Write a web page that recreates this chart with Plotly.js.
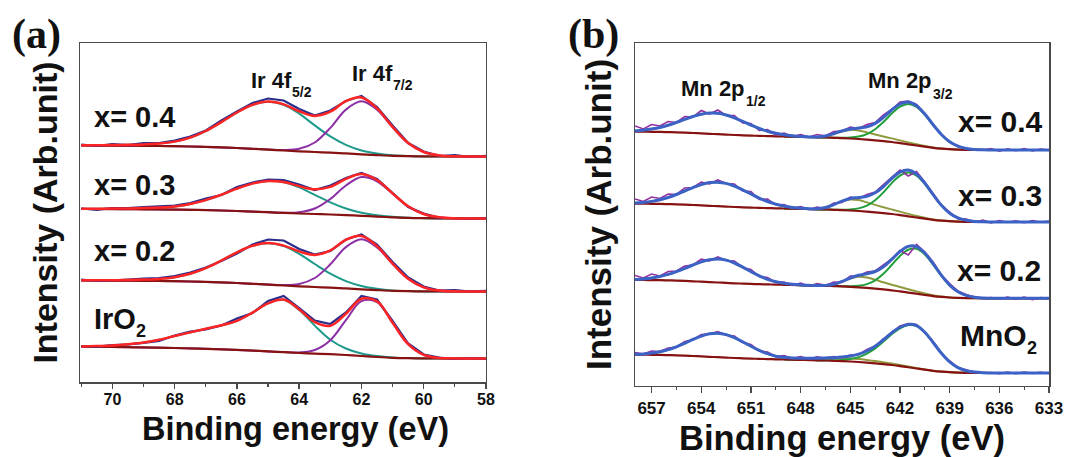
<!DOCTYPE html>
<html><head><meta charset="utf-8">
<script src="https://cdn.plot.ly/plotly-3.0.1.min.js"></script>
<style>html,body{margin:0;padding:0;background:#fff;} #chart{width:1070px;height:457px;}</style>
</head><body><div id="chart"></div>
<script>
// ---------------- Panel (a): Ir 4f ----------------
const energyA = [71,70.5,70,69.5,69,68.5,68,67.5,67,66.5,66,65.5,65,64.5,64,63.5,63,62.5,62,61.5,61,60.5,60,59.5,59,58.5,58];
const tickValsA = [70,68,66,64,62,60,58];

// x = 0.4
const bgA04   = [236.5,236.5,236.4,236.3,236.2,236.0,235.8,235.5,235.1,234.6,234.0,233.2,232.4,231.5,230.7,230.0,229.4,228.6,227.7,226.9,226.2,225.8,225.6,225.5,225.5,225.5,225.5];
const ir52A04 = [0.2,0.3,0.5,0.9,1.4,2.4,4.6,8.9,15.9,25.3,35.5,43.9,47.9,45.7,37.6,26.6,16.2,8.5,3.8,1.5,0.5,0.15,0,0,0,0,0];
const ir72A04 = [0,0,0,0,0,0,0,0,0,0,0,0,0.1,0.45,2.5,9.5,24.7,43.8,53,45.3,28.4,13,4.4,1.1,0.2,0,0];
const rawA04  = [237.5,236.0,237.8,237.0,238.8,239.0,241.5,245.5,251.5,261.5,270.5,279.0,283.5,281.5,273.0,266.5,271.5,281.0,286.0,275.0,256.5,239.0,230.5,226.0,226.8,225.0,226.2];
// x = 0.3
const bgA03   = [173.0,173.0,172.9,172.8,172.7,172.6,172.4,172.2,171.9,171.5,171.0,170.4,169.8,169.1,168.5,168.0,167.5,166.9,166.2,165.4,164.7,164.1,163.8,163.6,163.5,163.5,163.5];
const ir52A03 = [0.2,0.3,0.5,0.8,1.2,1.9,3.2,5.9,10.0,15.8,22.4,28.0,31.2,30.7,26.1,19.2,12.1,6.6,3.1,1.3,0.45,0.15,0.05,0,0,0,0];
const ir72A03 = [0,0,0,0,0,0,0,0,0,0,0,0,0,0.2,1.3,5.5,15.5,29.6,38.7,35.3,23.5,11.5,4.1,1.1,0.2,0,0];
const rawA03  = [173.5,172.2,174.0,173.8,174.8,175.5,176.5,179.0,183.5,187.0,195.0,199.5,202.5,202.0,197.5,192.0,196.5,204.0,209.0,203.0,189.5,175.0,168.5,164.2,164.0,163.0,164.0];
// x = 0.2
const bgA02   = [101.5,101.5,101.4,101.3,101.2,101.0,100.8,100.5,100.1,99.6,99.0,98.2,97.4,96.5,95.7,95.0,94.4,93.6,92.7,91.9,91.2,90.8,90.6,90.5,90.5,90.5,90.5];
const ir52A02 = [0.2,0.3,0.4,0.8,1.2,2.1,4.0,7.7,13.7,21.9,30.7,38.0,41.4,39.5,32.5,23.0,14.0,7.3,3.3,1.3,0.4,0.1,0,0,0,0,0];
const ir72A02 = [0,0,0,0,0,0,0,0,0,0,0,0,0.1,0.4,2.4,9.0,23.3,41.3,50.0,42.7,26.8,12.3,4.1,1.0,0.2,0,0];
const rawA02  = [102.5,101.0,101.5,102.8,103.5,104.0,106.0,109.5,114.5,121.0,128.5,137.5,142.5,141.5,133.0,127.5,131.0,142.5,147.5,137.5,120.0,104.5,95.5,91.5,91.8,90.5,91.2];
// IrO2
const bgIrO2   = [35.3,35.2,35.0,34.8,34.6,34.3,34.0,33.6,33.2,32.7,32.1,31.4,30.6,29.8,29.0,28.4,27.8,27.0,26.0,25.0,24.2,23.8,23.6,23.5,23.5,23.5,23.5];
const ir52IrO2 = [0.3,0.8,1.5,3.0,5.0,8.0,12.0,16.0,20.0,24.0,29.0,38.0,48.0,52.5,43.0,28.0,14.5,6.5,2.5,0.9,0.3,0.1,0,0,0,0,0];
const ir72IrO2 = [0,0,0,0,0,0,0,0,0,0,0,0,0,0.1,0.6,3.6,14.0,34.8,54.8,54.8,34.8,14.0,3.6,0.6,0.1,0,0];
const rawIrO2  = [36.0,35.2,37.0,37.5,39.0,41.0,46.5,50.5,52.5,56.5,63.5,69.0,81.0,86.0,74.0,61.5,58.0,69.5,86.0,82.5,61.0,38.5,27.5,24.5,23.0,24.0,23.2];

// ---------------- Panel (b): Mn 2p ----------------
const energyB = [658,657.5,657,656.5,656,655.5,655,654.5,654,653.5,653,652.5,652,651.5,651,650.5,650,649.5,649,648.5,648,647.5,647,646.5,646,645.5,645,644.5,644,643.5,643,642.5,642,641.5,641,640.5,640,639.5,639,638.5,638,637.5,637,636.5,636,635.5,635,634.5,634,633.5,633];
const energyB12 = [658,657.5,657,656.5,656,655.5,655,654.5,654,653.5,653,652.5,652,651.5,651,650.5,650,649.5,649,648.5,648,647.5,647,646.5];
const energyB32 = [649,648.5,648,647.5,647,646.5,646,645.5,645,644.5,644,643.5,643,642.5,642,641.5,641,640.5,640,639.5,639,638.5,638,637.5,637,636.5,636];
const tickValsB = [657,654,651,648,645,642,639,636,633];

// x = 0.4
const bgB04  = [254.3,254.3,254.2,254.1,253.9,253.7,253.4,253.0,252.6,252.2,251.8,251.4,251.0,250.7,250.4,250.1,249.9,249.7,249.5,249.3,249.1,248.9,248.7,248.5,248.2,247.9,247.5,247.0,246.4,245.7,244.9,244.0,242.9,241.7,240.5,239.3,238.2,237.4,236.8,236.4,236.2,236.1,236.0,236.0,236.0,236.0,236.0,236.0,236.0,236.0,236.0];
const p12B04 = [0.8,1.5,2.7,4.4,6.9,9.9,13.2,16.5,19.2,20.7,20.9,19.6,17.1,13.9,10.5,7.4,4.9,3.0,1.7,0.9,0.4,0.2,0.1,0];
const p32B04 = [0,0,0,0,0,0.02,0.08,0.29,0.9,2.4,5.5,11.1,19.1,28.4,36.4,40.4,38.6,31.9,22.8,14.0,7.4,3.4,1.35,0.46,0.14,0.04,0];
const satB04 = [0,0,0,0,0.3,1.5,4.0,6.8,8.6,8.5,7.2,5.8,4.6,3.6,2.7,1.9,1.2,0.7,0.3,0.1,0,0,0,0,0,0,0];
const rawB04 = [260.0,257.0,261.5,260.0,264.5,263.5,269.5,269.0,275.5,272.0,276.0,270.5,270.5,263.0,262.5,255.5,256.5,251.0,253.0,249.5,251.5,249.0,251.5,250.0,254.5,255.0,259.0,257.5,261.5,263.5,271.0,276.5,284.0,285.0,281.5,272.5,261.5,251.5,244.0,239.5,237.5,236.5,236.0,237.5,234.8,237.2,235.2,237.4,235.0,236.9,235.6];
// x = 0.3
const bgB03  = [182.3,182.3,182.2,182.1,181.9,181.7,181.4,181.0,180.6,180.2,179.8,179.4,179.0,178.7,178.4,178.1,177.9,177.7,177.5,177.3,177.1,176.9,176.7,176.5,176.2,175.9,175.5,175.0,174.4,173.7,172.9,172.0,170.9,169.7,168.5,167.3,166.2,165.4,164.8,164.4,164.2,164.1,164.0,164.0,164.0,164.0,164.0,164.0,164.0,164.0,164.0];
const p12B03 = [0.7,1.3,2.4,4.2,6.6,9.8,13.6,17.4,20.8,23.2,24.0,23.2,20.8,17.4,13.6,9.8,6.6,4.2,2.4,1.3,0.7,0.3,0.1,0];
const p32B03 = [0,0,0,0,0,0.02,0.09,0.3,1.0,2.6,6.0,12.1,20.7,30.9,39.5,43.9,41.9,34.7,24.8,15.2,8.0,3.7,1.5,0.5,0.15,0.04,0];
const satB03 = [0,0,0,0,0.4,1.9,5.1,8.7,11.0,10.9,9.2,7.4,5.9,4.6,3.5,2.4,1.5,0.9,0.4,0.1,0,0,0,0,0,0,0];
const rawB03 = [187.0,184.5,189.0,187.5,192.0,191.5,198.0,198.5,204.0,202.0,206.0,202.5,202.0,195.0,194.5,186.5,187.0,181.0,181.5,177.5,179.5,176.5,179.0,177.5,183.0,183.5,189.0,187.5,191.5,194.0,201.5,208.5,216.0,210.0,214.5,204.0,193.0,181.0,174.0,167.0,167.0,163.5,165.8,163.2,165.4,163.6,165.2,163.3,165.5,163.8,165.0];
// x = 0.2
const bgB02  = [106.0,106.0,105.9,105.8,105.6,105.4,105.1,104.7,104.3,103.9,103.5,103.1,102.7,102.4,102.1,101.8,101.6,101.4,101.2,101.0,100.8,100.6,100.4,100.2,99.9,99.6,99.2,98.7,98.1,97.4,96.6,95.7,94.6,93.4,92.2,91.0,89.9,89.1,88.5,88.1,87.9,87.8,87.7,87.7,87.7,87.7,87.7,87.7,87.7,87.7,87.7];
const p12B02 = [0.6,1.1,2.1,3.7,6.0,9.0,12.5,16.3,19.8,22.3,23.5,22.8,20.3,16.5,12.2,8.3,5.1,2.9,1.5,0.7,0.3,0.1,0,0];
const p32B02 = [0,0,0,0,0,0.01,0.04,0.15,0.5,1.5,3.8,8.3,15.6,25.3,35.5,42.9,44.9,40.5,31.5,21.2,12.3,6.2,2.7,1.0,0.3,0.1,0];
const satB02 = [0,0,0,0,0,0.4,1.8,4.9,8.3,10.5,10.4,8.8,7.1,5.6,4.4,3.3,2.3,1.5,0.9,0.4,0.1,0,0,0,0,0,0];
const rawB02 = [110.5,108.0,112.0,110.0,114.5,115.0,120.0,121.0,127.0,125.0,129.0,125.5,125.0,118.5,116.5,109.5,108.5,103.5,104.0,100.5,103.0,100.0,102.3,100.6,104.0,103.5,110.0,110.0,114.0,115.0,121.0,127.0,135.5,131.0,141.5,134.0,124.0,111.0,102.5,95.0,91.5,89.0,88.0,88.4,87.0,88.8,86.9,88.9,86.4,88.5,87.3];
// MnO2
const bgMnO2  = [31.3,31.3,31.2,31.1,30.9,30.7,30.4,30.0,29.6,29.2,28.8,28.4,28.0,27.7,27.4,27.1,26.9,26.7,26.5,26.3,26.1,25.9,25.7,25.5,25.2,24.9,24.5,24.0,23.4,22.7,21.9,21.0,19.9,18.7,17.5,16.3,15.2,14.4,13.8,13.4,13.2,13.1,13.0,13.0,13.0,13.0,13.0,13.0,13.0,13.0,13.0];
const p12MnO2 = [0.4,0.8,1.7,3.1,5.4,8.5,12.3,16.5,20.3,23.0,24.0,23.0,20.3,16.5,12.3,8.5,5.4,3.1,1.7,0.8,0.4,0.2,0.1,0];
const p32MnO2 = [0,0,0.01,0.02,0.05,0.16,0.43,1.07,2.4,4.9,9.0,14.9,22.5,30.7,37.8,42.2,42.5,37.2,28.2,18.4,10.4,5.0,2.1,0.8,0.24,0.07,0];
const satMnO2 = [0.5,0.8,1.2,1.6,2.0,2.4,2.7,2.9,3.0,2.9,2.6,2.2,1.8,1.4,1.0,0.7,0.4,0.2,0.1,0,0,0,0,0,0,0,0];
const rawMnO2 = [33.5,32.0,35.0,34.5,38.0,39.0,44.5,46.0,51.5,52.0,54.5,51.0,50.0,43.5,41.5,35.0,34.0,29.5,30.5,27.5,29.5,27.0,29.2,27.6,29.4,28.2,31.0,31.2,36.5,40.0,47.0,53.5,60.0,62.5,61.5,54.0,44.5,33.0,25.0,18.5,16.0,14.0,13.0,13.4,12.4,13.8,12.3,13.9,12.6,13.7,12.6];

// ---------------- build ----------------
const FONT = 'Liberation Sans, Arial, Helvetica, sans-serif';
const C = {
  rawA:'#2a2c8a', fitA:'#ff2525', teal:'#1e9a8c', purple:'#8b2fa5', bg:'#861212',
  rawB:'#93309e', fitB:'#3d62c6', green:'#1f9e3a', olive:'#8f9a3e'
};
const traces = [];
function line(x, y, color, width, shape, ax, ay) {
  return {x:x, y:y, type:'scatter', mode:'lines', hoverinfo:'skip', showlegend:false,
          line:{color:color, width:width, shape:shape}, xaxis:ax, yaxis:ay};
}
const specsA = [
  {bg:bgA04, c52:ir52A04, c72:ir72A04, raw:rawA04},
  {bg:bgA03, c52:ir52A03, c72:ir72A03, raw:rawA03},
  {bg:bgA02, c52:ir52A02, c72:ir72A02, raw:rawA02},
  {bg:bgIrO2, c52:ir52IrO2, c72:ir72IrO2, raw:rawIrO2}
];
specsA.forEach(s => {
  const c52 = s.c52.map((v,i) => s.bg[i] + v);
  const c72 = s.c72.map((v,i) => s.bg[i] + v);
  const fit = s.bg.map((b,i) => b + s.c52[i] + s.c72[i]);
  traces.push(line(energyA, c52, C.teal, 2, 'spline', 'x', 'y'));
  traces.push(line(energyA, c72, C.purple, 2, 'spline', 'x', 'y'));
  traces.push(line(energyA, s.bg, C.bg, 2.2, 'spline', 'x', 'y'));
  traces.push(line(energyA, s.raw, C.rawA, 2.2, 'linear', 'x', 'y'));
  traces.push(line(energyA, fit, C.fitA, 2.5, 'spline', 'x', 'y'));
});
const specsB = [
  {bg:bgB04, p12:p12B04, p32:p32B04, sat:satB04, raw:rawB04},
  {bg:bgB03, p12:p12B03, p32:p32B03, sat:satB03, raw:rawB03},
  {bg:bgB02, p12:p12B02, p32:p32B02, sat:satB02, raw:rawB02},
  {bg:bgMnO2, p12:p12MnO2, p32:p32MnO2, sat:satMnO2, raw:rawMnO2}
];
specsB.forEach(s => {
  const bgAt = e => s.bg[energyB.indexOf(e)];
  const p12 = energyB12.map((e,i) => bgAt(e) + s.p12[i]);
  const p32 = energyB32.map((e,i) => bgAt(e) + s.p32[i]);
  const sat = energyB32.map((e,i) => bgAt(e) + s.sat[i]);
  const fit = energyB.map((e,i) => {
    let v = s.bg[i];
    const j = energyB12.indexOf(e); if (j >= 0) v += s.p12[j];
    const k = energyB32.indexOf(e); if (k >= 0) v += s.p32[k] + s.sat[k];
    return v;
  });
  traces.push(line(energyB12, p12, C.green, 2, 'spline', 'x2', 'y2'));
  traces.push(line(energyB32, sat, C.olive, 2, 'spline', 'x2', 'y2'));
  traces.push(line(energyB32, p32, C.green, 2, 'spline', 'x2', 'y2'));
  traces.push(line(energyB, s.bg, C.bg, 2.2, 'spline', 'x2', 'y2'));
  traces.push(line(energyB, s.raw, C.rawB, 1.6, 'linear', 'x2', 'y2'));
  traces.push(line(energyB, fit, C.fitB, 3, 'spline', 'x2', 'y2'));
});

const frame = {showline:true, mirror:true, linecolor:'#4a4a4a', linewidth:1.5, showgrid:false, zeroline:false};
const tickFont = {family:FONT, size:16, color:'#111', weight:'bold'};
const titleFont = {family:FONT, size:34, color:'#111', weight:'bold'};
const layout = {
  width:1070, height:457, margin:{l:0, r:0, t:0, b:0},
  paper_bgcolor:'#fff', plot_bgcolor:'#fff', showlegend:false,
  xaxis: Object.assign({}, frame, {
    domain:[0.0748, 0.4542], range:[71.04, 58], tickmode:'array', tickvals:tickValsA,
    ticks:'outside', ticklen:5, tickwidth:1.5, tickcolor:'#4a4a4a', tickfont:tickFont, ticklabelstandoff:-3,
    minor:{dtick:1, tick0:58, ticks:'outside', ticklen:3, tickwidth:1.2, tickcolor:'#4a4a4a'}
  }),
  yaxis: Object.assign({}, frame, {
    domain:[0.1641, 0.9059], range:[0, 339], showticklabels:false, ticks:'',
    title:{text:'Intensity (Arb.unit)', font:Object.assign({}, titleFont, {size:34}), standoff:10}
  }),
  xaxis2: Object.assign({}, frame, {
    domain:[0.5935, 0.9804], range:[658, 633], tickmode:'array', tickvals:tickValsB, anchor:'y2',
    ticks:'outside', ticklen:6, tickwidth:1.5, tickcolor:'#4a4a4a', tickfont:Object.assign({}, tickFont, {size:17}),
    minor:{dtick:1.5, tick0:633, ticks:'outside', ticklen:3, tickwidth:1.2, tickcolor:'#4a4a4a'},
    title:{text:'Binding energy (eV)', font:Object.assign({}, titleFont, {size:34.5}), standoff:9}
  }),
  yaxis2: Object.assign({}, frame, {
    domain:[0.1554, 0.9059], range:[0, 343], showticklabels:false, ticks:'', anchor:'x2',
    title:{text:'Intensity (Arb.unit)', font:Object.assign({}, titleFont, {size:35}), standoff:11}
  }),
  annotations: []
};
function label(text, x, y, ax, ay, size, xshift) {
  return {text:text, x:x, y:y, xref:ax, yref:ay, showarrow:false, xanchor:'left', yanchor:'middle',
          xshift:xshift||0, font:{family:FONT, size:size, color:'#111', weight:'bold'}};
}
// em widths of Liberation Sans Bold (Arial Bold metrics) used to place subscripts right after their base text
const W_IR4F = 1.834, W_MN2P = 2.889, W_IRO = 1.445, W_MNO = 2.222;
const SZ_PEAK = 22, SZ_SUB = 14, SZ_SAMPLE = 29, SZ_SUB2 = 18;
layout.annotations.push(
  label('x= 0.4', 70.65, 265, 'x', 'y', SZ_SAMPLE),
  label('x= 0.3', 70.65, 197, 'x', 'y', SZ_SAMPLE),
  label('x= 0.2', 70.65, 131, 'x', 'y', SZ_SAMPLE),
  label('IrO', 70.65, 63, 'x', 'y', SZ_SAMPLE),
  label('2', 70.65, 51, 'x', 'y', SZ_SUB2, W_IRO*SZ_SAMPLE),
  label('Ir 4f', 65.61, 302, 'x', 'y', SZ_PEAK),
  label('5/2', 65.61, 290, 'x', 'y', SZ_SUB, W_IR4F*SZ_PEAK + 1),
  label('Ir 4f', 62.37, 309, 'x', 'y', SZ_PEAK),
  label('7/2', 62.37, 297, 'x', 'y', SZ_SUB, W_IR4F*SZ_PEAK + 1),
  label('Mn 2p', 655.34, 298, 'x2', 'y2', SZ_PEAK),
  label('1/2', 655.34, 285, 'x2', 'y2', SZ_SUB, W_MN2P*SZ_PEAK + 1),
  label('Mn 2p', 644.04, 306, 'x2', 'y2', SZ_PEAK),
  label('3/2', 644.04, 292, 'x2', 'y2', SZ_SUB, W_MN2P*SZ_PEAK + 1),
  label('x= 0.4', 638.6, 265, 'x2', 'y2', 30),
  label('x= 0.3', 638.6, 190, 'x2', 'y2', 30),
  label('x= 0.2', 638.7, 115, 'x2', 'y2', 30),
  label('MnO', 638.48, 50, 'x2', 'y2', 30),
  label('2', 638.48, 38, 'x2', 'y2', SZ_SUB2, W_MNO*30),
  {text:'Binding energy (eV)', x:295/1070, y:1-429/457, xref:'paper', yref:'paper', showarrow:false,
   xanchor:'center', yanchor:'middle', font:Object.assign({}, titleFont, {size:32.5})},
  {text:'(a)', x:36/1070, y:1-35/457, xref:'paper', yref:'paper', showarrow:false, xanchor:'center', yanchor:'middle',
   font:{family:'Liberation Serif, Times New Roman, serif', size:42, color:'#111', weight:'bold'}},
  {text:'(b)', x:593/1070, y:1-35/457, xref:'paper', yref:'paper', showarrow:false, xanchor:'center', yanchor:'middle',
   font:{family:'Liberation Serif, Times New Roman, serif', size:42, color:'#111', weight:'bold'}}
);
Plotly.newPlot('chart', traces, layout, {displayModeBar:false, staticPlot:true});
</script>
</body></html>
